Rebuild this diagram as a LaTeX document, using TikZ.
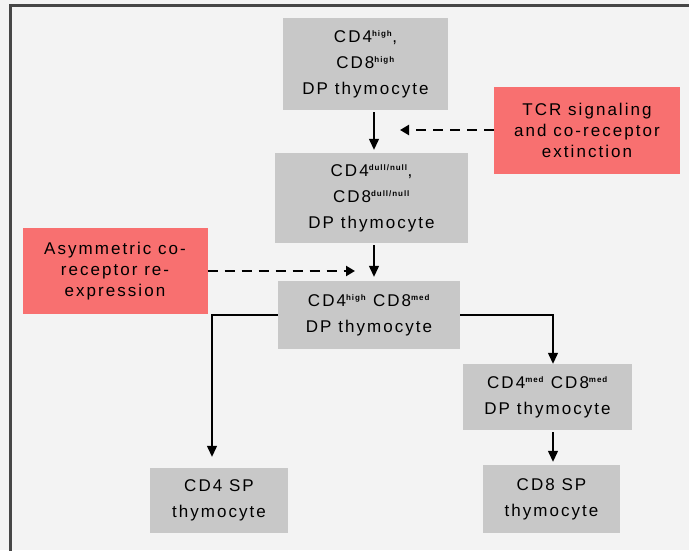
\documentclass[tikz,border=0pt]{standalone}
\usepackage{fontspec}
\setmainfont[LetterSpace=12]{Liberation Sans}
\usetikzlibrary{arrows.meta, positioning, calc}
\definecolor{cellgray}{RGB}{200,200,200}
\definecolor{signalred}{RGB}{248,112,112}
\definecolor{pagegray}{RGB}{243,243,243}
\definecolor{framegray}{RGB}{70,70,70}
\newcommand{\lvl}[1]{\textsuperscript{\fontsize{8}{8}\selectfont\bfseries #1}}

\tikzset{
  cell/.style={fill=cellgray, align=center, inner sep=0pt, font=\fontsize{17}{26}\selectfont},
  signal/.style={fill=signalred, align=center, inner sep=0pt, font=\fontsize{17}{21}\selectfont},
  flow/.style={-{Triangle[length=11pt,width=10pt]}, line width=1.3pt},
  cue/.style={-{Triangle[length=9pt,width=10pt]}, line width=2.8pt, dash pattern=on 10pt off 7pt},
}

\begin{document}
\begin{tikzpicture}[x=1pt,y=-1pt]
\useasboundingbox (0,0) rectangle (689,550);
\clip (0,0) rectangle (689,550);
% page and frame
\fill[pagegray] (0,0) rectangle (689,550);
\draw[framegray, line width=2.5pt] (10.5,560) -- (10.5,5.5) -- (700,5.5);

% double positive stages
\node[cell, minimum width=165pt, minimum height=92pt] (dpHigh) at (365.5,64) {CD4\lvl{high},\\CD8\lvl{high}\\DP thymocyte};
\node[cell, minimum width=193pt, minimum height=90pt] (dpDull) at (371.5,198) {CD4\lvl{dull/null},\\CD8\lvl{dull/null}\\DP thymocyte};
\node[cell, minimum width=182pt, minimum height=68pt] (dpMed) at (369,315) {CD4\lvl{high} CD8\lvl{med}\\DP thymocyte};
\node[cell, minimum width=169pt, minimum height=66pt] (dpMid) at (547.5,397) {CD4\lvl{med} CD8\lvl{med}\\DP thymocyte};

% single positive outcomes
\node[cell, minimum width=138pt, minimum height=65pt] (cd4sp) at (219,500.5) {CD4 SP\\thymocyte};
\node[cell, minimum width=137pt, minimum height=68pt] (cd8sp) at (551.5,499) {CD8 SP\\thymocyte};

% signals
\node[signal, minimum width=186pt, minimum height=87pt] (tcr) at (587,130) {TCR signaling\\and co-receptor\\extinction};
\node[signal, minimum width=185pt, minimum height=86pt] (asym) at (115,271) {Asymmetric co-\\receptor re-\\expression};

% connectors
\coordinate (spine) at (374,0);
\coordinate (leftDrop) at (212,0);
\coordinate (rightDrop) at (553,0);
\coordinate (tcrTip) at (400,130);
\coordinate (asymTip) at (355,271);
\draw[flow, shorten <=2pt, shorten >=3pt] (dpHigh.south -| spine) -- (dpDull.north -| spine);
\draw[flow, shorten <=2pt, shorten >=4pt] (dpDull.south -| spine) -- (dpMed.north -| spine);
\draw[flow, shorten >=11pt] (dpMed.west) -| (leftDrop |- cd4sp.north);
\draw[flow] (dpMed.east) -| (rightDrop |- dpMid.north);
\draw[flow, shorten <=2pt, shorten >=3pt] (dpMid.south -| rightDrop) -- (cd8sp.north -| rightDrop);
\draw[cue] (tcr.west) -- (tcrTip);
\draw[cue] (asym.east) -- (asymTip);
\end{tikzpicture}
\end{document}
